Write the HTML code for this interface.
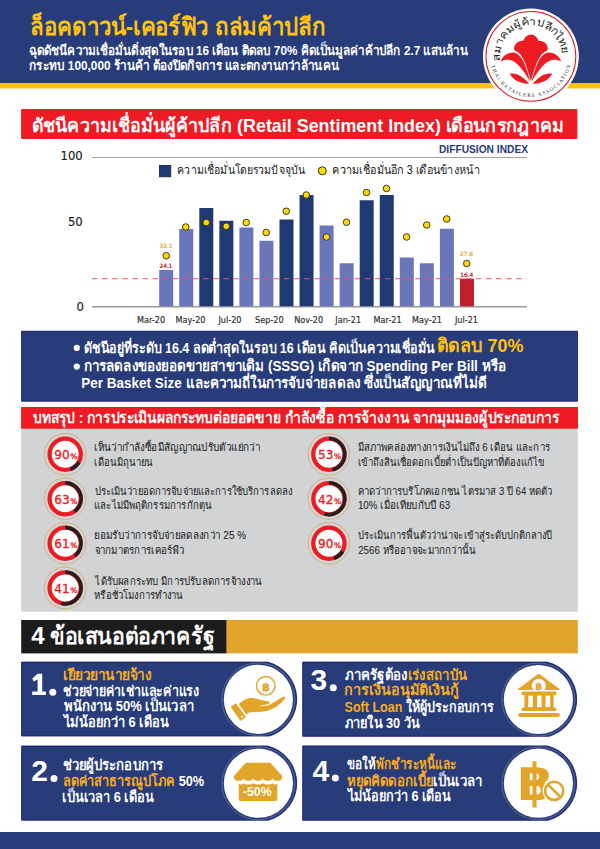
<!DOCTYPE html>
<html lang="th"><head><meta charset="utf-8"><title>Retail Sentiment Index</title><style>html,body{margin:0;padding:0;background:#fff;font-family:"Liberation Sans",sans-serif}body{position:relative;width:600px;height:849px;overflow:hidden}svg{display:block}</style></head><body><svg width="600" height="849" viewBox="0 0 600 849" role="img" aria-label="Retail Sentiment Index infographic">
<rect x="0" y="0" width="600" height="849" fill="#fff"/>
<rect x="0" y="0" width="600" height="83.4" fill="#273c79"/>
<rect x="0" y="83.3" width="600" height="5.2" fill="#ffc20e"/>
<circle cx="530.9" cy="56.4" r="47.9" fill="#fff"/>
<circle cx="530.9" cy="56.4" r="44.9" fill="none" stroke="#d2232a" stroke-width="1.05"/>
<g transform="translate(530.7 58.6) scale(1.04) translate(-530.7 -58.6)">
<path d="M530.93 35.47 C534.35 35.68 537.33 38.24 538.19 41.55 C542.67 40.69 547.57 45.07 547.15 49.33 C547.04 50.61 546.29 51.15 545.23 51.47 C539.68 53.60 535.84 62.13 530.93 80.48 C526.03 62.13 522.19 53.60 516.64 51.47 C515.57 51.15 514.83 50.61 514.72 49.33 C514.29 45.07 519.20 40.69 523.68 41.55 C524.53 38.24 527.52 35.68 530.93 35.47 Z" fill="#ed1c24"/>
<path d="M501.71 61.39 C504.05 55.20 509.39 52.53 514.72 52.85 C521.97 54.67 525.71 63.73 530.29 80.80 C525.60 73.33 520.27 64.05 513.01 60.64 C509.17 59.15 505.33 59.79 501.71 61.39 Z" fill="#ed1c24"/>
<path d="M510.45 73.23 C516.00 71.52 523.25 75.25 529.23 82.72 C522.61 83.25 514.72 80.48 510.45 73.23 Z" fill="#ed1c24"/>
<path d="M560.16 61.39 C557.81 55.20 552.48 52.53 547.15 52.85 C539.89 54.67 536.16 63.73 531.57 80.80 C536.27 73.33 541.60 64.05 548.85 60.64 C552.69 59.15 556.53 59.79 560.16 61.39 Z" fill="#ed1c24"/>
<path d="M551.41 73.23 C545.87 71.52 538.61 75.25 532.64 82.72 C539.25 83.25 547.15 80.48 551.41 73.23 Z" fill="#ed1c24"/>
</g>
<rect x="21.6" y="109.6" width="555.3" height="28.8" fill="#ed1c24" stroke="#f80000" stroke-width="0.8"/>
<line x1="92" y1="157.5" x2="526.8" y2="157.5" stroke="#8c8c8c" stroke-width="0.8"/>
<line x1="92" y1="306.7" x2="526.8" y2="306.7" stroke="#9a9a9a" stroke-width="1.4"/>
<rect x="159.4" y="165.4" width="11.4" height="11.4" fill="#1f3a73" stroke="#141f4d" stroke-width="0.8"/>
<circle cx="322.3" cy="170.8" r="4" fill="#ffd800" stroke="#2a2a2a" stroke-width="1"/>
<rect x="159.20" y="270" width="14" height="36.20" fill="#6b75b9"/>
<rect x="179.25" y="229" width="14" height="77.20" fill="#6b75b9"/>
<rect x="199.30" y="208" width="14" height="98.20" fill="#1f3a73"/>
<rect x="219.35" y="220.75" width="14" height="85.45" fill="#1f3a73"/>
<rect x="239.40" y="227.5" width="14" height="78.70" fill="#6b75b9"/>
<rect x="259.45" y="240.75" width="14" height="65.45" fill="#6b75b9"/>
<rect x="279.50" y="219.5" width="14" height="86.70" fill="#1f3a73"/>
<rect x="299.55" y="195" width="14" height="111.20" fill="#1f3a73"/>
<rect x="319.60" y="225.5" width="14" height="80.70" fill="#6b75b9"/>
<rect x="339.65" y="263.25" width="14" height="42.95" fill="#6b75b9"/>
<rect x="359.70" y="200.25" width="14" height="105.95" fill="#1f3a73"/>
<rect x="379.75" y="195" width="14" height="111.20" fill="#1f3a73"/>
<rect x="399.80" y="257.5" width="14" height="48.70" fill="#6b75b9"/>
<rect x="419.85" y="263.25" width="14" height="42.95" fill="#6b75b9"/>
<rect x="439.90" y="228.75" width="14" height="77.45" fill="#6b75b9"/>
<rect x="459.95" y="278.75" width="14" height="27.45" fill="#be1e2d"/>
<line x1="92" y1="278.8" x2="526.8" y2="278.8" stroke="#f0506a" stroke-width="1.1" stroke-dasharray="5.5 4.6"/>
<circle cx="166.25" cy="255.75" r="3.3" fill="#ffd800" stroke="#2a2a2a" stroke-width="0.9"/>
<circle cx="185.75" cy="227" r="3.3" fill="#ffd800" stroke="#2a2a2a" stroke-width="0.9"/>
<circle cx="206.25" cy="222.5" r="3.3" fill="#ffd800" stroke="#2a2a2a" stroke-width="0.9"/>
<circle cx="226.25" cy="226.25" r="3.3" fill="#ffd800" stroke="#2a2a2a" stroke-width="0.9"/>
<circle cx="246.25" cy="222.5" r="3.3" fill="#ffd800" stroke="#2a2a2a" stroke-width="0.9"/>
<circle cx="266.25" cy="232.5" r="3.3" fill="#ffd800" stroke="#2a2a2a" stroke-width="0.9"/>
<circle cx="286.25" cy="211.25" r="3.3" fill="#ffd800" stroke="#2a2a2a" stroke-width="0.9"/>
<circle cx="306.25" cy="195" r="3.3" fill="#ffd800" stroke="#2a2a2a" stroke-width="0.9"/>
<circle cx="326.5" cy="237" r="3.3" fill="#ffd800" stroke="#2a2a2a" stroke-width="0.9"/>
<circle cx="346.5" cy="222.25" r="3.3" fill="#ffd800" stroke="#2a2a2a" stroke-width="0.9"/>
<circle cx="366.5" cy="192.5" r="3.3" fill="#ffd800" stroke="#2a2a2a" stroke-width="0.9"/>
<circle cx="386.5" cy="188.5" r="3.3" fill="#ffd800" stroke="#2a2a2a" stroke-width="0.9"/>
<circle cx="406.6" cy="237" r="3.3" fill="#ffd800" stroke="#2a2a2a" stroke-width="0.9"/>
<circle cx="426.7" cy="225" r="3.3" fill="#ffd800" stroke="#2a2a2a" stroke-width="0.9"/>
<circle cx="446.75" cy="219" r="3.3" fill="#ffd800" stroke="#2a2a2a" stroke-width="0.9"/>
<circle cx="466.75" cy="263.5" r="3.3" fill="#ffd800" stroke="#2a2a2a" stroke-width="0.9"/>
<rect x="21.6" y="331.2" width="555.9" height="70" fill="#273c79" stroke="#0d0d6b" stroke-width="0.8"/>
<circle cx="76.8" cy="347.9" r="3.1" fill="#fff"/>
<circle cx="76.8" cy="366.6" r="3.1" fill="#fff"/>
<rect x="21.6" y="407.4" width="555.9" height="21" fill="#ed1c24" stroke="#f80000" stroke-width="0.8"/>
<rect x="21.2" y="428.8" width="556.6" height="182.8" fill="#d1d3d4"/>
<circle cx="65.2" cy="454.3" r="20.8" fill="none" stroke="#d6a64f" stroke-width="0.7"/>
<circle cx="65.2" cy="454.3" r="15.6" fill="#fff" stroke="#ed1c24" stroke-width="4.3"/>
<path d="M78.97 462.25 A15.9 15.9 0 0 1 70.38 469.33" fill="none" stroke="#231f20" stroke-width="3.5"/>
<circle cx="65.2" cy="498.7" r="20.8" fill="none" stroke="#d6a64f" stroke-width="0.7"/>
<circle cx="65.2" cy="498.7" r="15.6" fill="#fff" stroke="#ed1c24" stroke-width="4.3"/>
<path d="M65.20 482.80 A15.9 15.9 0 0 1 74.55 511.56" fill="none" stroke="#231f20" stroke-width="3.5"/>
<circle cx="65.2" cy="543.3" r="20.8" fill="none" stroke="#d6a64f" stroke-width="0.7"/>
<circle cx="65.2" cy="543.3" r="15.6" fill="#fff" stroke="#ed1c24" stroke-width="4.3"/>
<path d="M65.20 527.40 A15.9 15.9 0 0 1 74.99 555.83" fill="none" stroke="#231f20" stroke-width="3.5"/>
<circle cx="65.2" cy="588" r="20.8" fill="none" stroke="#d6a64f" stroke-width="0.7"/>
<circle cx="65.2" cy="588" r="15.6" fill="#fff" stroke="#ed1c24" stroke-width="4.3"/>
<path d="M65.20 572.10 A15.9 15.9 0 1 1 61.08 603.36" fill="none" stroke="#231f20" stroke-width="3.5"/>
<circle cx="328.9" cy="454.3" r="20.8" fill="none" stroke="#d6a64f" stroke-width="0.7"/>
<circle cx="328.9" cy="454.3" r="15.6" fill="#fff" stroke="#ed1c24" stroke-width="4.3"/>
<path d="M328.90 438.40 A15.9 15.9 0 0 1 332.48 469.79" fill="none" stroke="#231f20" stroke-width="3.5"/>
<circle cx="328.9" cy="498.7" r="20.8" fill="none" stroke="#d6a64f" stroke-width="0.7"/>
<circle cx="328.9" cy="498.7" r="15.6" fill="#fff" stroke="#ed1c24" stroke-width="4.3"/>
<path d="M328.90 482.80 A15.9 15.9 0 1 1 324.52 513.98" fill="none" stroke="#231f20" stroke-width="3.5"/>
<circle cx="328.9" cy="543.3" r="20.8" fill="none" stroke="#d6a64f" stroke-width="0.7"/>
<circle cx="328.9" cy="543.3" r="15.6" fill="#fff" stroke="#ed1c24" stroke-width="4.3"/>
<path d="M342.67 551.25 A15.9 15.9 0 0 1 334.08 558.33" fill="none" stroke="#231f20" stroke-width="3.5"/>
<rect x="21.2" y="620" width="205.5" height="33.4" fill="#1c1c1c"/>
<rect x="226.7" y="620" width="351.1" height="33.4" fill="#e2a52a"/>
<path d="M21.599999999999998 662.1 H267.51 A38.3 38.3 0 0 1 269.35 736.0000000000001 H21.599999999999998 Z" fill="#273c79" stroke="#0d0d6b" stroke-width="0.8"/>
<circle cx="258.4" cy="699.3" r="36.5" fill="none" stroke="#fff" stroke-width="0.5" stroke-opacity="0.45"/>
<circle cx="258.4" cy="699.3" r="34.6" fill="#fff"/>
<path d="M302.7 662.1 H546.65 A38.3 38.3 0 0 1 549.01 736.3000000000001 H302.7 Z" fill="#273c79" stroke="#0d0d6b" stroke-width="0.8"/>
<circle cx="538.4" cy="699.5" r="36.5" fill="none" stroke="#fff" stroke-width="0.5" stroke-opacity="0.45"/>
<circle cx="538.4" cy="699.5" r="34.6" fill="#fff"/>
<path d="M21.599999999999998 746.0 H267.51 A38.3 38.3 0 0 1 268.29 820.2 H21.599999999999998 Z" fill="#273c79" stroke="#0d0d6b" stroke-width="0.8"/>
<circle cx="258.4" cy="783.2" r="36.5" fill="none" stroke="#fff" stroke-width="0.5" stroke-opacity="0.45"/>
<circle cx="258.4" cy="783.2" r="34.6" fill="#fff"/>
<path d="M302.7 745.9 H547.09 A38.3 38.3 0 0 1 547.91 820.3000000000001 H302.7 Z" fill="#273c79" stroke="#0d0d6b" stroke-width="0.8"/>
<circle cx="538.4" cy="783.2" r="36.5" fill="none" stroke="#fff" stroke-width="0.5" stroke-opacity="0.45"/>
<circle cx="538.4" cy="783.2" r="34.6" fill="#fff"/>
<path d="M37.6 673.7H42.2V691.4H45.8V694.9H32.2V691.4H37.6V679.6L33.7 681.6L32.3 678.4Z" fill="#fff"/>
<circle cx="52.8" cy="692.2" r="3.5" fill="#fff"/>
<circle cx="333.3" cy="687.7" r="3.5" fill="#fff"/>
<circle cx="54" cy="778.4" r="3.5" fill="#fff"/>
<circle cx="335.4" cy="777.9" r="3.5" fill="#fff"/>
<circle cx="265.8" cy="685.8" r="9.3" fill="none" stroke="#e2a52a" stroke-width="1.45"/>
<path d="M238.77 704.07 C242.50 700.57 246.59 697.77 252.42 698.00 C257.09 698.24 262.34 700.57 267.59 701.27 C269.92 701.51 270.74 703.26 268.41 704.07 C265.84 705.01 262.34 705.36 260.01 705.71 C263.51 706.41 268.17 705.59 271.09 704.07 C275.18 701.74 279.84 698.00 283.93 696.84 C285.44 696.60 285.68 698.00 284.51 699.17 C279.84 705.01 271.67 710.26 263.51 711.42 C258.84 712.24 253.00 712.01 248.92 712.47 L246.35 714.57 Z" fill="#e2a52a"/>
<path d="M230.60 706.87 L235.97 703.14 L246.00 716.91 L240.64 720.88 Z" fill="#e2a52a"/>
<circle cx="242.04" cy="716.67" r="1" fill="#fff"/>
<path d="M245.77 762.84 L270.27 762.84 L282.18 775.90 L282.18 778.00 C281.94 781.74 272.75 781.74 272.51 778.00 C272.28 781.74 263.09 781.74 262.85 778.00 C262.62 781.74 253.42 781.74 253.19 778.00 C252.96 781.74 243.76 781.74 243.53 778.00 C243.30 781.74 234.10 781.74 233.87 778.00 L233.87 775.90 Z" fill="#e2a52a"/>
<path d="M238.77 782.91 C239.47 785.01 242.74 785.01 243.44 782.91 C244.89 785.01 251.67 785.01 253.12 782.91 C254.57 785.01 261.35 785.01 262.81 782.91 C264.26 785.01 271.04 785.01 272.49 782.91 C273.21 785.01 276.56 785.01 277.28 782.91 L277.28 799.59 C277.28 800.53 276.81 800.99 275.88 800.99 L240.17 800.99 C239.24 800.99 238.77 800.53 238.77 799.59 Z" fill="#e2a52a"/>
<path d="M538.8 673.4 L559.6 689 Q559.8 690 558.8 690 H518.8 Q517.8 690 518 689 Z" fill="#e2a52a"/>
<circle cx="538.8" cy="685.8" r="7" fill="#fff"/>
<rect x="521.6" y="691.4" width="34.8" height="3.8" rx="1.2" fill="#e2a52a"/>
<rect x="524.4" y="694.6" width="29.2" height="13.4" fill="#e2a52a"/>
<rect x="528.3" y="695.6" width="4.5" height="11.6" fill="#fff"/>
<rect x="537.0" y="695.6" width="4.5" height="11.6" fill="#fff"/>
<rect x="545.6" y="695.6" width="4.5" height="11.6" fill="#fff"/>
<rect x="521.6" y="707.4" width="34.8" height="3.6" rx="1.6" fill="#e2a52a"/>
<rect x="518.2" y="713" width="41.8" height="4" rx="2" fill="#e2a52a"/>
<rect x="0" y="832" width="600" height="17" fill="#273c79"/>
<defs><path id="logoArcTop" d="M500 60.6 A31.2 31.2 0 1 1 562.1 56.4" fill="none"/><path id="logoArcBottom" d="M491.34 65.55 A40.6 40.6 0 0 0 570.6 64.8" fill="none"/></defs>
<g font-family="'Liberation Sans', sans-serif">
<text x="30.1" y="34.7" font-size="24" font-weight="bold" fill="#ffc20e" textLength="296" lengthAdjust="spacingAndGlyphs">ล็อคดาวน์-เคอร์ฟิว ถล่มค้าปลีก</text>
<text x="28.7" y="54.5" font-size="13" font-weight="bold" fill="#fff" textLength="439" lengthAdjust="spacingAndGlyphs">ฉุดดัชนีความเชื่อมั่นดิ่งสุดในรอบ 16 เดือน ติดลบ 70% คิดเป็นมูลค่าค้าปลีก 2.7 แสนล้าน</text>
<text x="29" y="69.7" font-size="13" font-weight="bold" fill="#fff" textLength="310" lengthAdjust="spacingAndGlyphs">กระทบ 100,000 ร้านค้า ต้องปิดกิจการ และตกงานกว่าล้านคน</text>
<text font-size="10.5" fill="#231f20" textLength="100" lengthAdjust="spacingAndGlyphs"><textPath href="#logoArcTop" textLength="100" lengthAdjust="spacingAndGlyphs">สมาคมผู้ค้าปลีกไทย</textPath></text>
<text font-family="'Liberation Serif', serif" font-size="5.2" fill="#231f20" textLength="109" lengthAdjust="spacing"><textPath href="#logoArcBottom" textLength="109" lengthAdjust="spacing">THAI RETAILERS ASSOCIATION</textPath></text>
<text x="31.5" y="132" font-size="19" font-weight="bold" fill="#fff" textLength="533" lengthAdjust="spacingAndGlyphs">ดัชนีความเชื่อมั่นผู้ค้าปลีก (Retail Sentiment Index) เดือนกรกฎาคม</text>
<text x="439" y="152.5" font-size="11" font-weight="bold" fill="#273c79" textLength="89" lengthAdjust="spacingAndGlyphs">DIFFUSION INDEX</text>
<g font-family="'DejaVu Sans', sans-serif" font-size="11.6" fill="#1a1a1b" stroke="#1a1a1b" stroke-width="0.18">
<text x="60.5" y="160">100</text>
<text x="67.9" y="226">50</text>
<text x="76.6" y="310.6">0</text>
</g>
<text x="177.4" y="174.3" font-size="12" fill="#222" textLength="127.5" lengthAdjust="spacingAndGlyphs">ความเชื่อมั่นโดยรวมปัจจุบัน</text>
<text x="332.4" y="174.3" font-size="12" fill="#222" textLength="147.5" lengthAdjust="spacingAndGlyphs">ความเชื่อมั่นอีก 3 เดือนข้างหน้า</text>
<g font-family="'DejaVu Sans', sans-serif" font-size="5.9" stroke-width="0.22">
<text x="159.5" y="247.6" fill="#e0a92b" stroke="#e0a92b">32.1</text>
<text x="159.5" y="268" fill="#c4161d" stroke="#c4161d">24.1</text>
<text x="459.9" y="256.1" fill="#e0a92b" stroke="#e0a92b">27.6</text>
<text x="460.2" y="277" fill="#c4161d" stroke="#c4161d">16.4</text>
</g>
<g font-family="'DejaVu Sans', sans-serif" font-size="8.15" fill="#2a2a2b" stroke="#2a2a2b" stroke-width="0.15">
<text x="137.05" y="323">Mar-20</text>
<text x="175.6" y="323">May-20</text>
<text x="218.4" y="323">Jul-20</text>
<text x="255.1" y="323">Sep-20</text>
<text x="294.3" y="323">Nov-20</text>
<text x="335.3" y="323">Jan-21</text>
<text x="373.6" y="323">Mar-21</text>
<text x="412.1" y="323">May-21</text>
<text x="454.9" y="323">Jul-21</text>
</g>
<text x="84" y="352.5" font-size="14.4" font-weight="bold" fill="#fff" textLength="350.8" lengthAdjust="spacingAndGlyphs">ดัชนีอยู่ที่ระดับ 16.4 ลดต่ำสุดในรอบ 16 เดือน คิดเป็นความเชื่อมั่น</text>
<text x="437.1" y="352.3" font-size="19" font-weight="bold" fill="#ffc20e" textLength="86.5" lengthAdjust="spacingAndGlyphs">ติดลบ 70%</text>
<text x="84" y="371.1" font-size="15" font-weight="bold" fill="#fff" textLength="421.8" lengthAdjust="spacingAndGlyphs">การลดลงของยอดขายสาขาเดิม (SSSG) เกิดจาก Spending Per Bill หรือ</text>
<text x="81.3" y="388" font-size="15" font-weight="bold" fill="#fff" textLength="405.6" lengthAdjust="spacingAndGlyphs">Per Basket Size และความถี่ในการจับจ่ายลดลง ซึ่งเป็นสัญญาณที่ไม่ดี</text>
<text x="33" y="423" font-size="15.5" font-weight="bold" fill="#fff" textLength="526" lengthAdjust="spacingAndGlyphs">บทสรุป : การประเมินผลกระทบต่อยอดขาย กำลังซื้อ การจ้างงาน จากมุมมองผู้ประกอบการ</text>
<g font-family="'DejaVu Sans', sans-serif" fill="#ed1c25" stroke="#ed1c25" stroke-width="0.35">
<text x="54.3" y="459.2" font-size="12.1">90</text><text x="70.3" y="459.2" font-size="7.6">%</text>
<text x="54.3" y="503.6" font-size="12.1">63</text><text x="70.3" y="503.6" font-size="7.6">%</text>
<text x="54.3" y="548.2" font-size="12.1">61</text><text x="70.3" y="548.2" font-size="7.6">%</text>
<text x="54.3" y="592.9" font-size="12.1">41</text><text x="70.3" y="592.9" font-size="7.6">%</text>
<text x="318" y="459.2" font-size="12.1">53</text><text x="334" y="459.2" font-size="7.6">%</text>
<text x="318" y="503.6" font-size="12.1">42</text><text x="334" y="503.6" font-size="7.6">%</text>
<text x="318" y="548.2" font-size="12.1">90</text><text x="334" y="548.2" font-size="7.6">%</text>
</g>
<g font-size="11" fill="#1a1a1a">
<text x="94.2" y="451.4" textLength="166" lengthAdjust="spacingAndGlyphs">เห็นว่ากำลังซื้อมีสัญญาณปรับตัวแย่กว่า</text>
<text x="94.2" y="466" textLength="59" lengthAdjust="spacingAndGlyphs">เดือนมิถุนายน</text>
<text x="94.5" y="495" textLength="197.6" lengthAdjust="spacingAndGlyphs">ประเมินว่ายอดการจับจ่ายและการใช้บริการลดลง</text>
<text x="94.2" y="509.4" textLength="117.6" lengthAdjust="spacingAndGlyphs">และไม่มีพฤติกรรมการกักตุน</text>
<text x="94.4" y="539.3" textLength="151.6" lengthAdjust="spacingAndGlyphs">ยอมรับว่าการจับจ่ายลดลงกว่า 25 %</text>
<text x="94.7" y="553.6" textLength="90" lengthAdjust="spacingAndGlyphs">จากมาตรการเคอร์ฟิว</text>
<text x="95.3" y="584.8" textLength="166.9" lengthAdjust="spacingAndGlyphs">ได้รับผลกระทบ มีการปรับลดการจ้างงาน</text>
<text x="94.2" y="598.9" textLength="89.2" lengthAdjust="spacingAndGlyphs">หรือชั่วโมงการทำงาน</text>
<text x="357.6" y="451.4" textLength="192.6" lengthAdjust="spacingAndGlyphs">มีสภาพคล่องทางการเงินไม่ถึง 6 เดือน และการ</text>
<text x="357.6" y="466" textLength="187.4" lengthAdjust="spacingAndGlyphs">เข้าถึงสินเชื่อดอกเบี้ยต่ำเป็นปัญหาที่ต้องแก้ไข</text>
<text x="357.9" y="494.9" textLength="194.5" lengthAdjust="spacingAndGlyphs">คาดว่าการบริโภคเอกชน ไตรมาส 3 ปี 64 หดตัว</text>
<text x="357.9" y="509.1" textLength="92.2" lengthAdjust="spacingAndGlyphs">10% เมื่อเทียบกับปี 63</text>
<text x="357.9" y="539.3" textLength="194.3" lengthAdjust="spacingAndGlyphs">ประเมินการฟื้นตัวว่าน่าจะเข้าสู่ระดับปกติกลางปี</text>
<text x="358.2" y="553.6" textLength="118" lengthAdjust="spacingAndGlyphs">2566 หรืออาจจะมากกว่านั้น</text>
</g>
<text x="31.2" y="644.3" font-size="24" font-weight="bold" fill="#fff">4</text>
<text x="50.3" y="644.3" font-size="23.5" font-weight="bold" fill="#fff" textLength="164" lengthAdjust="spacingAndGlyphs">ข้อเสนอต่อภาครัฐ</text>
<text x="310.6" y="689.9" font-size="30" font-weight="bold" fill="#fff">3</text>
<text x="31.2" y="780.6" font-size="30" font-weight="bold" fill="#fff">2</text>
<text x="312.5" y="780.6" font-size="30" font-weight="bold" fill="#fff">4</text>
<g font-size="14.5" font-weight="bold" fill="#fff">
<text x="62.9" y="680.3" fill="#f9ad22" textLength="88.6" lengthAdjust="spacingAndGlyphs">เยียวยานายจ้าง</text>
<text x="63.1" y="695.9" textLength="136.2" lengthAdjust="spacingAndGlyphs">ช่วยจ่ายค่าเช่าและค่าแรง</text>
<text x="63.6" y="711.3" textLength="130.3" lengthAdjust="spacingAndGlyphs">พนักงาน 50% เป็นเวลา</text>
<text x="63.8" y="726.6" textLength="104.6" lengthAdjust="spacingAndGlyphs">ไม่น้อยกว่า 6 เดือน</text>
<text x="344.6" y="680" textLength="122.3" lengthAdjust="spacingAndGlyphs">ภาครัฐต้อง<tspan fill="#f9ad22">เร่งสถาบัน</tspan></text>
<text x="344.3" y="695" fill="#f9ad22" textLength="114.7" lengthAdjust="spacingAndGlyphs">การเงินอนุมัติเงินกู้</text>
<text x="344.6" y="711.7" textLength="149.2" lengthAdjust="spacingAndGlyphs"><tspan fill="#f9ad22">Soft Loan</tspan> ให้ผู้ประกอบการ</text>
<text x="344.6" y="727.8" textLength="75" lengthAdjust="spacingAndGlyphs">ภายใน 30 วัน</text>
<text x="62.8" y="769.7" textLength="100.7" lengthAdjust="spacingAndGlyphs">ช่วยผู้ประกอบการ</text>
<text x="62.7" y="785.5" textLength="141.5" lengthAdjust="spacingAndGlyphs"><tspan fill="#f9ad22">ลดค่าสาธารณูปโภค</tspan> 50%</text>
<text x="62.4" y="801.5" textLength="91.2" lengthAdjust="spacingAndGlyphs">เป็นเวลา 6 เดือน</text>
<text x="346.9" y="769.3" textLength="109.4" lengthAdjust="spacingAndGlyphs">ขอให้<tspan fill="#f9ad22">พักชำระหนี้และ</tspan></text>
<text x="346.5" y="785.8" textLength="136" lengthAdjust="spacingAndGlyphs"><tspan fill="#f9ad22">หยุดคิดดอกเบี้ย</tspan>เป็นเวลา</text>
<text x="347.6" y="801.3" textLength="103.2" lengthAdjust="spacingAndGlyphs">ไม่น้อยกว่า 6 เดือน</text>
</g>
<text x="266" y="690.6" font-family="'DejaVu Sans', sans-serif" font-size="11.5" font-weight="bold" fill="#e2a52a" text-anchor="middle">฿</text>
<text x="242.9" y="796.2" font-size="12.3" font-weight="bold" fill="#fff" textLength="28.8" lengthAdjust="spacingAndGlyphs">-50%</text>
<text x="538.9" y="690.2" font-family="'DejaVu Sans', sans-serif" font-size="10.3" font-weight="bold" fill="#e2a52a" text-anchor="middle">฿</text>
<text x="535.6" y="800.3" font-family="'DejaVu Sans', sans-serif" font-size="51" font-weight="bold" fill="#e2a52a" text-anchor="middle">฿</text>
</g>
<circle cx="554.2" cy="790.8" r="11.6" fill="#fff"/>
<circle cx="554.2" cy="790.8" r="9.1" fill="none" stroke="#e2a52a" stroke-width="2.6"/>
<line x1="547.77" y1="784.37" x2="560.63" y2="797.23" stroke="#e2a52a" stroke-width="2.6"/>
</svg><div style="position:absolute;left:0;top:0;width:1px;height:1px;overflow:hidden;opacity:0;pointer-events:none;font-size:1px;line-height:1px"><p>ล็อคดาวน์-เคอร์ฟิว ถล่มค้าปลีก</p><p>ฉุดดัชนีความเชื่อมั่นดิ่งสุดในรอบ 16 เดือน ติดลบ 70% คิดเป็นมูลค่าค้าปลีก 2.7 แสนล้าน</p><p>กระทบ 100,000 ร้านค้า ต้องปิดกิจการ และตกงานกว่าล้านคน</p><p>ดัชนีความเชื่อมั่นผู้ค้าปลีก (Retail Sentiment Index) เดือนกรกฎาคม</p><p>DIFFUSION INDEX</p><p>ความเชื่อมั่นโดยรวมปัจจุบัน</p><p>ความเชื่อมั่นอีก 3 เดือนข้างหน้า</p><p>ดัชนีอยู่ที่ระดับ 16.4 ลดต่ำสุดในรอบ 16 เดือน คิดเป็นความเชื่อมั่น</p><p>ติดลบ 70%</p><p>การลดลงของยอดขายสาขาเดิม (SSSG) เกิดจาก Spending Per Bill หรือ</p><p>Per Basket Size และความถี่ในการจับจ่ายลดลง ซึ่งเป็นสัญญาณที่ไม่ดี</p><p>บทสรุป : การประเมินผลกระทบต่อยอดขาย กำลังซื้อ การจ้างงาน จากมุมมองผู้ประกอบการ</p><p>เห็นว่ากำลังซื้อมีสัญญาณปรับตัวแย่กว่า</p><p>เดือนมิถุนายน</p><p>ประเมินว่ายอดการจับจ่ายและการใช้บริการลดลง</p><p>และไม่มีพฤติกรรมการกักตุน</p><p>ยอมรับว่าการจับจ่ายลดลงกว่า 25 %</p><p>จากมาตรการเคอร์ฟิว</p><p>ได้รับผลกระทบ มีการปรับลดการจ้างงาน</p><p>หรือชั่วโมงการทำงาน</p><p>มีสภาพคล่องทางการเงินไม่ถึง 6 เดือน และการ</p><p>เข้าถึงสินเชื่อดอกเบี้ยต่ำเป็นปัญหาที่ต้องแก้ไข</p><p>คาดว่าการบริโภคเอกชน ไตรมาส 3 ปี 64 หดตัว</p><p>10% เมื่อเทียบกับปี 63</p><p>ประเมินการฟื้นตัวว่าน่าจะเข้าสู่ระดับปกติกลางปี</p><p>2566 หรืออาจจะมากกว่านั้น</p><p>4 ข้อเสนอต่อภาครัฐ</p><p>3</p><p>2</p><p>4</p><p>เยียวยานายจ้าง</p><p>ช่วยจ่ายค่าเช่าและค่าแรง</p><p>พนักงาน 50% เป็นเวลา</p><p>ไม่น้อยกว่า 6 เดือน</p><p>ภาครัฐต้องเร่งสถาบัน</p><p>การเงินอนุมัติเงินกู้</p><p>Soft Loan ให้ผู้ประกอบการ</p><p>ภายใน 30 วัน</p><p>ช่วยผู้ประกอบการ</p><p>ลดค่าสาธารณูปโภค 50%</p><p>เป็นเวลา 6 เดือน</p><p>ขอให้พักชำระหนี้และ</p><p>หยุดคิดดอกเบี้ยเป็นเวลา</p><p>ไม่น้อยกว่า 6 เดือน</p></div></body></html>
